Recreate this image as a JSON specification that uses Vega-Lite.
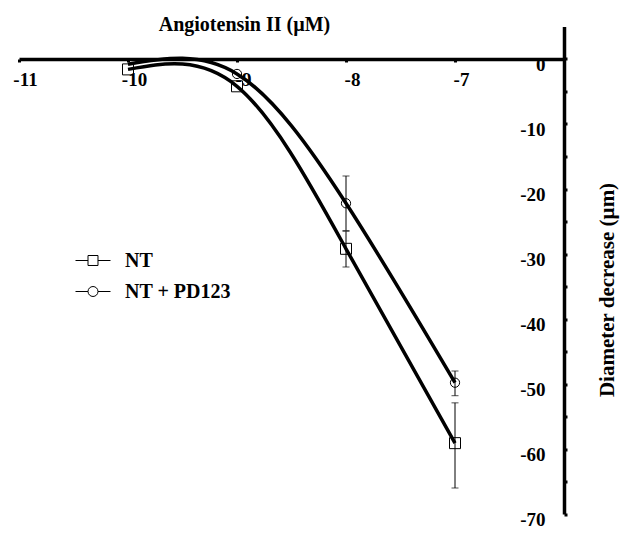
{
  "$schema": "https://vega.github.io/schema/vega-lite/v6.json",
  "width": 545,
  "height": 487.5,
  "autosize": "none",
  "padding": {"left": 19, "top": 26.5, "right": 60, "bottom": 24},
  "background": "white",
  "config": {
    "view": {"stroke": null},
    "font": "Liberation Serif",
    "axis": {
      "labelFont": "Liberation Serif",
      "labelFontWeight": "bold",
      "labelFontSize": 19,
      "labelColor": "black",
      "labelFlush": false,
      "labelOverlap": false,
      "labelBound": false,
      "titleFont": "Liberation Serif",
      "titleFontWeight": "bold",
      "titleFontSize": 20,
      "titleColor": "black",
      "domainColor": "black",
      "domainWidth": 3.5,
      "tickColor": "black",
      "tickSize": 3,
      "tickWidth": 3,
      "grid": false
    },
    "legend": {
      "labelFont": "Liberation Serif",
      "labelFontWeight": "bold",
      "labelFontSize": 20,
      "labelColor": "black"
    }
  },
  "data": {
    "values": [
      {"series": "NT", "x": -10, "y": -1.6},
      {"series": "NT", "x": -9, "y": -4.2},
      {"series": "NT", "x": -8, "y": -29.2, "lo": -32.0, "hi": -26.5},
      {"series": "NT", "x": -7, "y": -59.1, "lo": -66.0, "hi": -52.9},
      {"series": "NT + PD123", "x": -10, "y": -0.8},
      {"series": "NT + PD123", "x": -9, "y": -2.3},
      {"series": "NT + PD123", "x": -8, "y": -22.2, "lo": -26.4, "hi": -18.0},
      {"series": "NT + PD123", "x": -7, "y": -49.8, "lo": -51.8, "hi": -48.0}
    ]
  },
  "encoding": {
    "x": {
      "field": "x",
      "type": "quantitative",
      "scale": {"domain": [-11, -6], "nice": false, "zero": false},
      "axis": {
        "orient": "bottom",
        "offset": -455,
        "values": [-11, -10, -9, -8, -7],
        "labelExpr": "'' + datum.value",
        "labelPadding": 8,
        "labelOffset": 6,
        "title": "Angiotensin II (µM)",
        "titleX": 225,
        "titleY": -35,
        "titleAlign": "center",
        "titleBaseline": "middle",
        "titleAngle": 0
      }
    },
    "y": {
      "field": "y",
      "type": "quantitative",
      "scale": {"domain": [-70, 5], "nice": false, "zero": false},
      "axis": {
        "orient": "right",
        "values": [-70, -65, -60, -55, -50, -45, -40, -35, -30, -25, -20, -15, -10, -5, 0],
        "labelExpr": "datum.value % 10 === 0 ? '' + datum.value : ''",
        "labelAlign": "right",
        "labelBaseline": "middle",
        "labelPadding": -22,
        "labelOffset": 5,
        "title": "Diameter decrease (µm)",
        "titleFontSize": 21,
        "titleAngle": 270,
        "titleX": 43,
        "titleY": 263,
        "titleAlign": "center",
        "titleBaseline": "middle"
      }
    }
  },
  "layer": [
    {
      "mark": {"type": "line", "interpolate": "natural", "color": "black", "strokeWidth": 3.5},
      "encoding": {"detail": {"field": "series"}}
    },
    {
      "transform": [{"filter": "isValid(datum.lo)"}],
      "mark": {"type": "rule", "color": "black", "strokeWidth": 1},
      "encoding": {
        "y": {"field": "lo", "type": "quantitative"},
        "y2": {"field": "hi"}
      }
    },
    {
      "transform": [
        {"filter": "isValid(datum.lo)"},
        {"fold": ["lo", "hi"], "as": ["end", "v"]}
      ],
      "mark": {"type": "tick", "orient": "horizontal", "color": "black", "size": 7, "thickness": 1},
      "encoding": {"y": {"field": "v", "type": "quantitative"}}
    },
    {
      "transform": [{"filter": "datum.series == 'NT'"}],
      "mark": {"type": "point", "shape": "square", "filled": false, "color": "black", "size": 121, "strokeWidth": 1, "opacity": 1}
    },
    {
      "transform": [{"filter": "datum.series != 'NT' && datum.x > -10"}],
      "mark": {"type": "point", "shape": "circle", "filled": false, "color": "black", "size": 85, "strokeWidth": 1, "opacity": 1}
    },
    {
      "mark": {"type": "point", "filled": false, "color": "black", "opacity": 0},
      "encoding": {
        "shape": {
          "field": "series",
          "type": "nominal",
          "scale": {
            "domain": ["NT", "NT + PD123"],
            "range": [
              "M-2.5,0H-0.714M0.714,0H2.5M-0.714,-0.714H0.714V0.714H-0.714Z",
              "M-2.5,0H-0.714M0.714,0H2.5M-0.714,0A0.714,0.714,0,1,1,0.714,0A0.714,0.714,0,1,1,-0.714,0Z"
            ]
          },
          "legend": {
            "title": null,
            "orient": "none",
            "legendX": 64,
            "legendY": 224,
            "padding": 0,
            "symbolSize": 196,
            "symbolStrokeColor": "black",
            "symbolStrokeWidth": 1,
            "symbolFillColor": "white",
            "symbolOpacity": 1,
            "labelOffset": 22,
            "rowPadding": 11
          }
        }
      }
    }
  ]
}
